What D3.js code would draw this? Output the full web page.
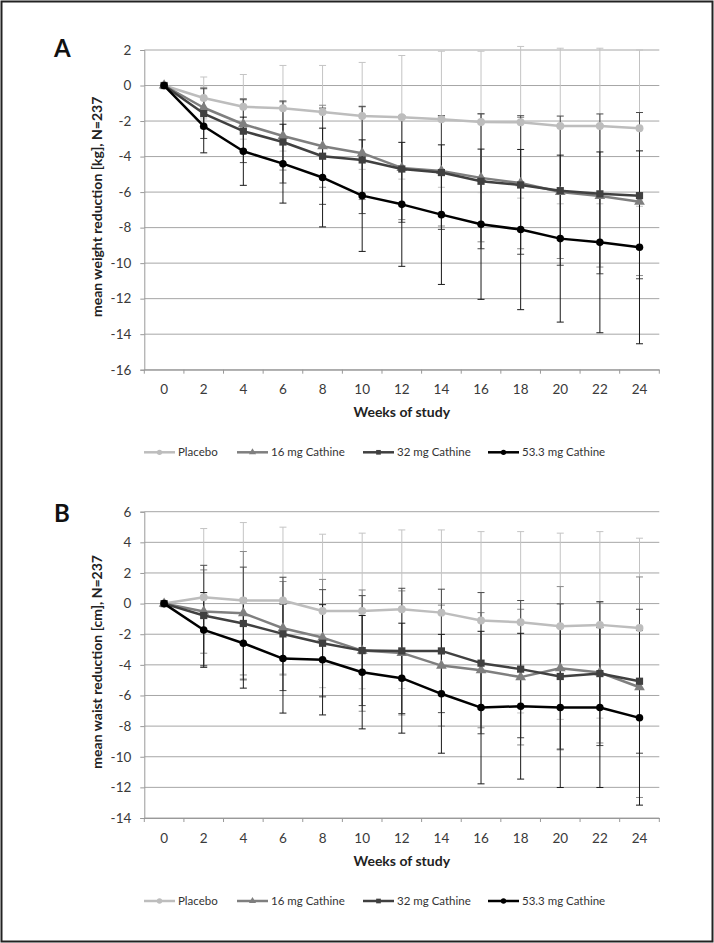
<!DOCTYPE html>
<html><head><meta charset="utf-8">
<script src="https://cdn.jsdelivr.net/npm/d3@7"></script>
<style>body{margin:0;background:#fff}svg{display:block}text{font-family:Lato,"Open Sans",sans-serif}</style>
</head><body><svg id="c" width="714" height="943"></svg>
<script>
// ---- data ----
const weeks = [0,2,4,6,8,10,12,14,16,18,20,22,24];
const seriesNames = ["Placebo","16 mg Cathine","32 mg Cathine","53.3 mg Cathine"];
const yTicksA = [2,0,-2,-4,-6,-8,-10,-12,-14,-16];
const yTicksB = [6,4,2,0,-2,-4,-6,-8,-10,-12,-14];

// Panel A: mean weight reduction [kg]
const weightPlacebo = [0,-0.7,-1.2,-1.28,-1.49,-1.71,-1.79,-1.9,-2.05,-2.07,-2.28,-2.28,-2.4];
const weight16 = [0,-1.25,-2.18,-2.84,-3.42,-3.81,-4.64,-4.81,-5.2,-5.49,-5.99,-6.22,-6.54];
const weight32 = [0,-1.58,-2.57,-3.18,-3.98,-4.19,-4.7,-4.9,-5.39,-5.6,-5.92,-6.1,-6.2];
const weight53 = [0,-2.29,-3.7,-4.4,-5.18,-6.2,-6.69,-7.27,-7.81,-8.11,-8.62,-8.83,-9.11];
const weightSdPlacebo = [0,1.18,1.82,2.41,2.62,3.01,3.48,3.83,3.98,4.27,4.38,4.38,4.4];
const weightSd16 = [0,1.15,1.45,1.92,2.31,2.61,2.91,3.1,3.6,3.7,3.75,4.0,4.16];
const weightSd32 = [0,1.4,1.77,2.31,2.71,3.02,3.0,3.2,3.8,3.9,4.2,4.5,4.68];
const weightSd53 = [0,1.5,1.92,2.22,2.78,3.14,3.49,3.93,4.23,4.51,4.7,5.09,5.43];

// Panel B: mean waist reduction [cm]
const waistPlacebo = [0,0.42,0.2,0.2,-0.48,-0.48,-0.37,-0.59,-1.11,-1.22,-1.48,-1.39,-1.59];
const waist16 = [0,-0.52,-0.63,-1.61,-2.22,-3.07,-3.22,-4.05,-4.35,-4.8,-4.22,-4.5,-5.46];
const waist32 = [0,-0.78,-1.3,-1.98,-2.59,-3.07,-3.09,-3.09,-3.89,-4.28,-4.76,-4.57,-5.07];
const waist53 = [0,-1.72,-2.59,-3.59,-3.67,-4.48,-4.87,-5.89,-6.79,-6.7,-6.79,-6.79,-7.46];
const waistSdPlacebo = [0,4.48,5.09,4.79,5.01,5.08,5.18,5.4,5.81,5.92,6.08,6.09,5.86];
const waistSd16 = [0,2.72,4.03,3.05,3.8,3.96,4.05,3.95,3.76,4.43,5.33,4.6,7.2];
const waistSd32 = [0,3.28,3.68,3.7,3.5,3.59,4.09,4.03,4.61,4.48,4.74,4.7,4.7];
const waistSd53 = [0,2.44,2.93,3.56,3.6,3.7,3.59,3.88,4.98,4.76,5.22,5.22,5.7];

// ---- styles ----
const lineColors = ["#bdbdbd","#7f7f7f","#404040","#000000"];
const errColors = ["#c4c4c4","#8a8a8a","#4a4a4a","#1a1a1a"];
const symbols = [d3.symbolCircle, d3.symbolTriangle, d3.symbolSquare, d3.symbolCircle];
const symSizes = [50, 50, 52, 45];

const svg = d3.select("#c");
svg.append("rect").attr("x",1.5).attr("y",1.5).attr("width",711).attr("height",940)
  .attr("fill","#fff").attr("stroke","#222").attr("stroke-width",2);

function panel(cfg){
  const x = d3.scaleBand().domain(weeks).range([144.3, 659.3]);
  const cx = w => x(w) + x.bandwidth()/2;
  const y = d3.scaleLinear().domain(cfg.domain).range(cfg.range);
  const g = svg.append("g");

  // gridlines
  g.selectAll(".grid").data(cfg.yTicks).enter().append("line")
    .attr("x1",144.3).attr("x2",659.3)
    .attr("y1",d=>y(d)).attr("y2",d=>y(d))
    .attr("stroke","#a6a6a6").attr("stroke-width",1);

  // y axis
  const ya = g.append("g").attr("transform","translate(144.3,0)")
    .call(d3.axisLeft(y).tickValues(cfg.yTicks).tickSize(4).tickPadding(9).tickFormat(d3.format("d")));
  ya.select(".domain").attr("stroke","#999");
  ya.selectAll(".tick line").attr("stroke","#999");
  ya.selectAll("text").attr("font-size",13.5).attr("fill","#3a3a3a")
    .text(d => d < 0 ? "-" + Math.abs(d) : d);

  // x axis
  const y0 = y(cfg.domain[0]);
  const xa = g.append("g").attr("transform",`translate(0,${y0})`)
    .call(d3.axisBottom(x).tickSize(0).tickPadding(15));
  xa.select(".domain").attr("stroke","#999");
  xa.selectAll("text").attr("font-size",13.5).attr("fill","#3a3a3a");
  const bounds = weeks.map(w=>x(w)).concat([x.range()[1]]);
  g.selectAll(".xt").data(bounds).enter().append("line")
    .attr("x1",d=>d).attr("x2",d=>d).attr("y1",y0).attr("y2",y0+4)
    .attr("stroke","#999");

  // titles
  g.append("text").attr("x",401.8).attr("y",y0+47.5).attr("text-anchor","middle")
    .attr("font-weight","bold").attr("font-size",14).attr("fill","#222").text("Weeks of study");
  const midY = (cfg.range[0]+cfg.range[1])/2 - 3;
  g.append("text").attr("transform",`translate(101.5,${midY}) rotate(-90)`)
    .attr("text-anchor","middle").attr("font-weight","bold").attr("font-size",14)
    .attr("fill","#222").text(cfg.yTitle);
  g.append("text").attr("x",54).attr("y",cfg.labelY).attr("font-family","Liberation Sans, Arial, sans-serif")
    .attr("font-weight","bold").attr("font-size",24).attr("fill","#111").text(cfg.label);

  // error bars
  cfg.series.forEach((vals,i)=>{
    const sd = cfg.sds[i];
    const eg = g.append("g").attr("stroke",errColors[i]).attr("stroke-width",1);
    weeks.forEach((w,j)=>{
      if(!sd[j]) return;
      const px = cx(w), hi = y(vals[j]+sd[j]), lo = y(vals[j]-sd[j]);
      eg.append("line").attr("x1",px).attr("x2",px).attr("y1",hi).attr("y2",lo);
      eg.append("line").attr("x1",px-3.5).attr("x2",px+3.5).attr("y1",hi).attr("y2",hi);
      eg.append("line").attr("x1",px-3.5).attr("x2",px+3.5).attr("y1",lo).attr("y2",lo);
    });
  });

  // lines + markers
  const line = d3.line().x((d,j)=>cx(weeks[j])).y(d=>y(d));
  cfg.series.forEach((vals,i)=>{
    g.append("path").datum(vals).attr("d",line).attr("fill","none")
      .attr("stroke",lineColors[i]).attr("stroke-width",2.5).attr("stroke-linejoin","round");
    g.selectAll(null).data(vals).enter().append("path")
      .attr("d",d3.symbol().type(symbols[i]).size(symSizes[i]))
      .attr("transform",(d,j)=>`translate(${cx(weeks[j])},${y(d)})`)
      .attr("fill",lineColors[i]);
  });

  // legend
  const lx = [144, 237, 363, 488];
  seriesNames.forEach((n,i)=>{
    const lg = g.append("g").attr("transform",`translate(${lx[i]},${cfg.legendY})`);
    lg.append("line").attr("x1",0).attr("x2",31).attr("stroke",lineColors[i]).attr("stroke-width",2.5);
    lg.append("path").attr("d",d3.symbol().type(symbols[i]).size(22)).attr("transform","translate(15.5,0)")
      .attr("fill",lineColors[i]);
    lg.append("text").attr("x",34).attr("dy","0.35em").attr("font-size",11.5).attr("fill","#333").text(n);
  });
}

panel({domain:[-16,2], range:[369.7,50], yTicks:yTicksA,
  series:[weightPlacebo,weight16,weight32,weight53],
  sds:[weightSdPlacebo,weightSd16,weightSd32,weightSd53],
  yTitle:"mean weight reduction [kg], N=237", label:"A", labelY:56.5, legendY:452.3});
panel({domain:[-14,6], range:[818,511.7], yTicks:yTicksB,
  series:[waistPlacebo,waist16,waist32,waist53],
  sds:[waistSdPlacebo,waistSd16,waistSd32,waistSd53],
  yTitle:"mean waist reduction [cm], N=237", label:"B", labelY:521.5, legendY:901});
</script></body></html>
